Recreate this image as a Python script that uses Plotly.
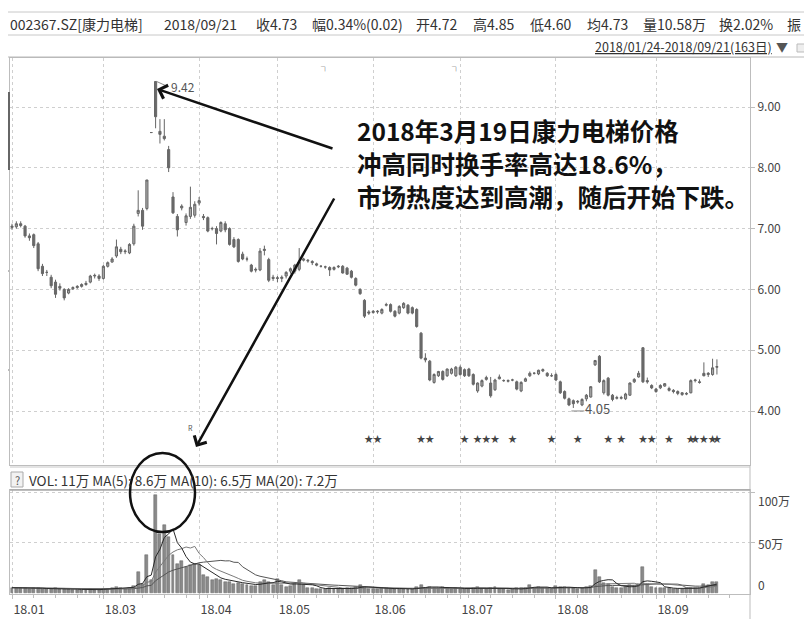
import plotly.graph_objects as go
import pandas as pd

# ---------------- data ----------------
opens = [7.02, 7.03, 7.08, 7.04, 6.88, 6.90, 6.75, 6.38, 6.28, 6.20, 6.12, 6.05, 6.00, 5.94, 6.01, 6.03, 6.05, 6.08, 6.12, 6.22,
         6.22, 6.18, 6.38, 6.45, 6.55, 6.66, 6.62, 6.60, 6.75, 7.25, 7.30, 7.33, 8.58, 9.42, 8.60, 8.52, 8.30, 7.52, 7.20, 7.34,
         7.10, 7.20, 7.22, 7.42, 7.20, 7.18, 7.00, 7.00, 6.96, 7.08, 7.00, 6.82, 6.82, 6.58, 6.50, 6.40, 6.33, 6.32, 6.64, 6.49,
         6.20, 6.18, 6.18, 6.22, 6.30, 6.30, 6.33, 6.48, 6.48, 6.46, 6.42, 6.38, 6.37, 6.36, 6.33, 6.37, 6.38, 6.35, 6.30, 6.18,
         6.00, 5.82, 5.63, 5.62, 5.63, 5.61, 5.74, 5.75, 5.64, 5.61, 5.70, 5.74, 5.70, 5.67, 5.28, 4.87, 4.82, 4.47, 4.58, 4.65,
         4.58, 4.62, 4.58, 4.72, 4.68, 4.69, 4.60, 4.33, 4.41, 4.52, 4.46, 4.35, 4.53, 4.50, 4.49, 4.51, 4.48, 4.33, 4.49, 4.58,
         4.62, 4.61, 4.66, 4.62, 4.58, 4.60, 4.48, 4.32, 4.20, 4.17, 4.16, 4.10, 4.20, 4.23, 4.76, 4.90, 4.30, 4.54, 4.26, 4.21,
         4.21, 4.20, 4.26, 4.48, 4.56, 5.04, 4.50, 4.42, 4.36, 4.38, 4.41, 4.37, 4.34, 4.32, 4.27, 4.29, 4.30, 4.50, 4.48, 4.62,
         4.60, 4.60, 4.72]
highs = [7.08, 7.12, 7.12, 7.06, 6.92, 6.92, 6.78, 6.42, 6.32, 6.24, 6.16, 6.10, 6.02, 6.02, 6.05, 6.07, 6.10, 6.14, 6.24, 6.26,
         6.25, 6.40, 6.46, 6.53, 6.82, 6.70, 6.66, 6.76, 7.08, 7.63, 7.34, 7.80, 8.58, 9.42, 8.80, 8.80, 8.36, 7.60, 7.24, 7.40,
         7.25, 7.69, 7.45, 7.52, 7.24, 7.20, 7.03, 7.04, 7.12, 7.12, 7.02, 6.86, 6.84, 6.62, 6.54, 6.42, 6.36, 6.68, 6.72, 6.52,
         6.24, 6.22, 6.23, 6.30, 6.36, 6.42, 6.68, 6.52, 6.50, 6.48, 6.44, 6.40, 6.39, 6.38, 6.38, 6.40, 6.40, 6.37, 6.32, 6.20,
         6.02, 5.84, 5.66, 5.66, 5.66, 5.69, 5.78, 5.77, 5.66, 5.74, 5.79, 5.76, 5.72, 5.69, 5.30, 4.95, 4.84, 4.62, 4.66, 4.67,
         4.70, 4.71, 4.74, 4.75, 4.70, 4.71, 4.62, 4.47, 4.52, 4.58, 4.56, 4.53, 4.60, 4.52, 4.52, 4.53, 4.50, 4.49, 4.55, 4.65,
         4.64, 4.68, 4.70, 4.64, 4.62, 4.63, 4.50, 4.34, 4.22, 4.19, 4.18, 4.21, 4.28, 4.41, 4.84, 4.92, 4.52, 4.56, 4.28, 4.25,
         4.25, 4.30, 4.47, 4.54, 4.66, 5.05, 4.55, 4.44, 4.38, 4.44, 4.46, 4.40, 4.36, 4.34, 4.31, 4.31, 4.52, 4.53, 4.52, 4.80,
         4.64, 4.86, 4.85]
lows = [6.98, 7.00, 7.02, 6.85, 6.80, 6.68, 6.30, 6.22, 6.22, 6.02, 5.86, 5.98, 5.82, 5.92, 5.99, 6.01, 6.03, 6.06, 6.10, 6.18,
        6.14, 6.16, 6.36, 6.44, 6.52, 6.58, 6.58, 6.58, 6.72, 7.20, 6.98, 7.30, 8.58, 8.65, 8.40, 8.45, 7.93, 7.24, 6.87, 7.30,
        7.05, 7.16, 7.18, 7.38, 7.14, 6.94, 6.97, 6.74, 6.94, 6.94, 6.72, 6.68, 6.44, 6.48, 6.46, 6.28, 6.28, 6.30, 6.56, 6.12,
        6.14, 6.12, 6.12, 6.18, 6.26, 6.26, 6.30, 6.46, 6.44, 6.40, 6.38, 6.36, 6.34, 6.22, 6.31, 6.35, 6.26, 6.24, 6.18, 6.05,
        5.91, 5.53, 5.58, 5.60, 5.60, 5.59, 5.72, 5.62, 5.54, 5.59, 5.68, 5.59, 5.59, 5.37, 4.85, 4.80, 4.49, 4.45, 4.56, 4.50,
        4.56, 4.60, 4.56, 4.58, 4.56, 4.56, 4.42, 4.30, 4.39, 4.50, 4.22, 4.33, 4.52, 4.48, 4.47, 4.49, 4.34, 4.31, 4.48, 4.56,
        4.60, 4.59, 4.64, 4.56, 4.56, 4.49, 4.28, 4.19, 4.08, 4.05, 4.12, 4.08, 4.16, 4.22, 4.74, 4.46, 4.27, 4.24, 4.16, 4.19,
        4.19, 4.18, 4.25, 4.46, 4.55, 4.46, 4.45, 4.36, 4.30, 4.36, 4.40, 4.32, 4.29, 4.26, 4.25, 4.26, 4.29, 4.47, 4.45, 4.57,
        4.56, 4.58, 4.60]
closes = [7.04, 7.08, 7.05, 6.88, 6.85, 6.72, 6.34, 6.26, 6.28, 6.06, 5.92, 6.02, 5.86, 6.00, 6.03, 6.05, 6.08, 6.10, 6.22, 6.23,
          6.18, 6.38, 6.44, 6.50, 6.70, 6.62, 6.63, 6.74, 7.04, 7.30, 7.04, 7.80, 8.58, 8.84, 8.55, 8.48, 8.00, 7.26, 6.98, 7.37,
          7.21, 7.35, 7.40, 7.46, 7.18, 6.96, 7.00, 6.92, 7.10, 6.98, 6.74, 6.70, 6.46, 6.50, 6.50, 6.30, 6.32, 6.63, 6.66, 6.15,
          6.18, 6.19, 6.20, 6.28, 6.34, 6.40, 6.45, 6.50, 6.47, 6.44, 6.40, 6.38, 6.37, 6.32, 6.36, 6.38, 6.27, 6.25, 6.20, 6.07,
          5.93, 5.56, 5.61, 5.64, 5.64, 5.67, 5.75, 5.64, 5.56, 5.72, 5.77, 5.61, 5.61, 5.39, 4.87, 4.84, 4.51, 4.60, 4.65, 4.52,
          4.69, 4.69, 4.72, 4.60, 4.58, 4.58, 4.44, 4.46, 4.50, 4.55, 4.25, 4.51, 4.56, 4.50, 4.50, 4.51, 4.36, 4.47, 4.53, 4.62,
          4.62, 4.67, 4.68, 4.58, 4.58, 4.51, 4.30, 4.21, 4.10, 4.12, 4.15, 4.19, 4.26, 4.40, 4.83, 4.48, 4.50, 4.26, 4.19, 4.22,
          4.22, 4.28, 4.46, 4.52, 4.62, 4.48, 4.48, 4.38, 4.32, 4.42, 4.45, 4.34, 4.32, 4.29, 4.30, 4.28, 4.50, 4.51, 4.47, 4.58,
          4.62, 4.71, 4.73]
volumes = [5, 5, 4.5, 5, 4, 4.5, 5, 4, 3.5, 4, 4.5, 4, 4, 3.5, 3, 3, 3, 3, 3.5, 3,
           3, 4, 4, 5, 6, 5, 4, 5, 7, 21, 9, 38, 13, 98, 59, 68, 56, 38, 29, 32,
           26, 28, 29, 28, 18, 16, 13, 14, 13, 11, 11, 9, 10, 9, 8, 7, 7, 11, 13, 11,
           8, 14, 8, 6, 7, 9, 13, 8, 5, 4.5, 4, 4, 3.5, 4.5, 4, 3.5, 4, 4.5, 5, 5.5,
           8, 6, 4, 3.5, 3.5, 5, 4.5, 4, 3.5, 4, 4, 3.5, 4, 5.5, 8, 5, 6, 5, 4.5, 6,
           5, 4, 4.5, 4, 3.5, 4, 5, 5.5, 4, 3.5, 5, 6, 4, 3.5, 3, 3.5, 4.5, 4.5, 5, 8,
           5, 5.5, 5, 4.5, 4, 7, 6, 5.5, 5, 4.5, 4, 5, 5.5, 7, 23, 16, 10, 9, 6, 5,
           5, 5.5, 8, 7, 9, 26, 9, 6, 5, 4.5, 5, 4.5, 4, 3.5, 4, 4.5, 5, 5, 5, 9,
           7.5, 11, 10.58]
tick_idx = [0, 21, 43, 61, 83, 103, 125, 148]
tick_labels = ["18.01", "18.03", "18.04", "18.05", "18.06", "18.07", "18.08", "18.09"]
price_ticks = [4, 5, 6, 7, 8, 9]
star_idx = [82, 84, 94, 96, 104, 107, 109, 111, 115, 124, 130, 137, 140, 145, 147, 151, 156, 157, 159, 161, 162]

idx = list(range(len(closes)))
vol = pd.Series(volumes)
ma5 = vol.rolling(5, min_periods=1).mean()
ma10 = vol.rolling(10, min_periods=1).mean()
ma20 = vol.rolling(20, min_periods=1).mean()

# ---------------- layout helpers ----------------
# the page body has an 8px margin, so the figure is drawn 8px right/down;
# all positions below are given in screenshot pixels and shifted back.
OFF = 8
W, H = 804, 611
L, T = 10 - OFF, 58 - OFF
R = W - (750 - OFF)
B = H - (594 - OFF)
PW, PH = W - L - R, H - T - B


def px(x):
    return (x - OFF - L) / PW


def py(y):
    return (H - B - (y - OFF)) / PH


FONT = "Noto Sans CJK SC, Microsoft YaHei, sans-serif"
GRID = "#cfcfcf"
AX = "#bdbdbd"

fig = go.Figure()
fig.add_trace(go.Candlestick(
    x=idx, open=opens, high=highs, low=lows, close=closes,
    increasing=dict(line=dict(color="#666", width=1), fillcolor="#a9a9a9"),
    decreasing=dict(line=dict(color="#666", width=1), fillcolor="#6a6a6a"),
    whiskerwidth=0, xaxis="x", yaxis="y", showlegend=False, hoverinfo="skip"))

fig.add_trace(go.Scatter(
    x=star_idx, y=[3.52] * len(star_idx), mode="text", text=["★"] * len(star_idx),
    textfont=dict(size=9, color="#444"), xaxis="x", yaxis="y", showlegend=False, hoverinfo="skip"))

fig.add_trace(go.Bar(
    x=idx, y=volumes, width=0.68, marker=dict(color="#8a8a8a", line=dict(color="#606060", width=0.5)),
    xaxis="x2", yaxis="y2", showlegend=False, hoverinfo="skip"))
for ma, col in ((ma20, "#555"), (ma10, "#7a7a7a"), (ma5, "#2a2a2a")):
    fig.add_trace(go.Scatter(x=idx, y=ma, mode="lines", line=dict(color=col, width=1),
                             xaxis="x2", yaxis="y2", showlegend=False, hoverinfo="skip"))

price_dom0 = py(465)
vol_dom1 = py(490)
xr = [-0.46, 169.6]
fig.update_layout(
    width=W, height=H, margin=dict(l=L, r=R, t=T, b=B),
    paper_bgcolor="white", plot_bgcolor="white",
    font=dict(family=FONT, color="#444"),
    bargap=0,
    xaxis=dict(domain=[0, 1], range=xr, anchor="y", tickvals=tick_idx, showticklabels=False,
               showgrid=True, gridcolor=GRID, griddash="dot", zeroline=False,
               showline=True, linecolor=AX, mirror=True, rangeslider=dict(visible=False), ticks=""),
    yaxis=dict(domain=[price_dom0, 1], range=[3.112, 9.806], side="right", tickvals=price_ticks,
               ticktext=["%.2f" % v for v in price_ticks], tickfont=dict(size=12, color="#444"),
               showgrid=True, gridcolor=GRID, griddash="dot", zeroline=False,
               ticks="outside", ticklen=4, tickcolor=AX, showline=True, linecolor=AX, mirror=True),
    xaxis2=dict(domain=[0, 1], range=xr, anchor="y2", matches="x", tickvals=tick_idx, ticktext=tick_labels,
                ticklabelshift=17, tickfont=dict(size=12.5, color="#444"),
                showgrid=True, gridcolor=GRID, griddash="dot", zeroline=False,
                ticks="outside", ticklen=4, tickcolor=AX,
                minor=dict(ticks="outside", ticklen=3, tickcolor=AX, tick0=0, dtick=5, showgrid=False),
                showline=True, linecolor=AX, mirror=True),
    yaxis2=dict(domain=[0, vol_dom1], range=[-1.3, 102.7], side="right", tickvals=[50, 100],
                showticklabels=False, showgrid=True, gridcolor=GRID, griddash="dot", zeroline=False,
                ticks="outside", ticklen=4, tickcolor=AX, showline=True, linecolor=AX, mirror=True),
)

ann = []
shapes = []


def text(x, y, s, size=13, color="#333", anchor="left", bold=False):
    ann.append(dict(x=px(x), y=py(y), xref="paper", yref="paper", text=("<b>%s</b>" % s if bold else s),
                    showarrow=False, xanchor=anchor, yanchor="middle",
                    font=dict(size=size, color=color, family=FONT)))


def hline(y, x0=0, x1=820, color="#c8c8c8", width=1):
    shapes.append(dict(type="line", xref="paper", yref="paper", x0=px(x0), x1=px(x1), y0=py(y), y1=py(y),
                       line=dict(color=color, width=width)))


def vline(x, y0, y1, color="#c8c8c8", width=1):
    shapes.append(dict(type="line", xref="paper", yref="paper", x0=px(x), x1=px(x), y0=py(y0), y1=py(y1),
                       line=dict(color=color, width=width)))


# header rows
hline(12)
hline(35)
hline(57, color="#b8b8b8")
header_items = [(8, "002367.SZ[康力电梯]"), (162, "2018/09/21"), (254, "收4.73"), (310, "幅0.34%(0.02)"),
                (414, "开4.72"), (471, "高4.85"), (528, "低4.60"), (585, "均4.73"), (641, "量10.58万"),
                (717, "换2.02%"), (785, "振 .")]
for hx, s in header_items:
    text(hx, 24, s, size=14)
text(774, 46, "<u>2018/01/24-2018/09/21(163日)</u>", size=12.5, anchor="right")
text(782, 46, "▼", size=12, color="#555", anchor="center")
shapes.append(dict(type="rect", xref="paper", yref="paper", x0=px(797), x1=px(805), y0=py(52), y1=py(44),
                   line=dict(color="#bbb", width=1), fillcolor="#eee"))

# right border line through info bar and below
vline(750, 465, 619, color=AX)

# info bar
hline(467, 10, 750, color="#c8c8c8")
hline(490, 10, 750, color="#a8a8a8", width=1.5)
shapes.append(dict(type="rect", xref="paper", yref="paper", x0=px(11), x1=px(23), y0=py(487), y1=py(472),
                   line=dict(color="#aaa", width=1), fillcolor="#f2f2f2"))
text(17, 480, "?", size=11, color="#555", anchor="center")
text(27, 480, "VOL: 11万 MA(5): 8.6万 MA(10): 6.5万 MA(20): 7.2万", size=13.5)

# volume axis labels
text(756, 500, "100万", size=12, color="#444")
text(756, 543, "50万", size=12, color="#444")
text(756, 584, "0", size=12, color="#444")

# left scroll handle / small marks
shapes.append(dict(type="rect", xref="paper", yref="paper", x0=px(7), x1=px(10), y0=py(170), y1=py(92),
                   line=dict(width=0), fillcolor="#666"))
for yy in (271, 370):
    hline(yy, 5, 9, color="#777")

# extreme labels with their small leader marks
imax = max(idx, key=lambda i: highs[i])
imin = min(idx, key=lambda i: lows[i])
ann.append(dict(x=imax, y=highs[imax], xref="x", yref="y", text="9.42", showarrow=False, xanchor="left",
                yanchor="middle", xshift=13, yshift=-5, font=dict(size=12, color="#555", family=FONT)))
shapes.append(dict(type="line", xref="x", yref="y", xsizemode="pixel", ysizemode="pixel",
                   xanchor=imax, yanchor=highs[imax], x0=1, x1=12, y0=0, y1=-5,
                   line=dict(color="#888", width=1)))
ann.append(dict(x=imin, y=lows[imin], xref="x", yref="y", text="4.05", showarrow=False, xanchor="left",
                yanchor="middle", xshift=10, yshift=-1, font=dict(size=13, color="#555", family=FONT)))
shapes.append(dict(type="line", xref="x", yref="y", xsizemode="pixel", ysizemode="pixel",
                   xanchor=imin, yanchor=lows[imin], x0=-2, x1=11, y0=-3, y1=-3,
                   line=dict(color="#888", width=1)))
for mi in (72, 102):
    ann.append(dict(x=mi, y=9.67, xref="x", yref="y", text="┐", showarrow=False,
                    font=dict(size=8, color="#333", family=FONT)))
ann.append(dict(x=41, y=3.72, xref="x", yref="y", text="R", showarrow=False,
                font=dict(size=7, color="#555", family=FONT)))

# commentary
text(355, 130, "2018年3月19日康力电梯价格", size=24.5, color="#111", bold=True)
text(355, 163, "冲高同时换手率高达18.6%，", size=24.5, color="#111", bold=True)
text(355, 196, "市场热度达到高潮，随后开始下跌。", size=24.5, color="#111", bold=True)

ann.append(dict(x=px(157), y=py(89), xref="paper", yref="paper", ax=334 - 157, ay=149 - 89, text="",
                showarrow=True, arrowhead=4, arrowsize=1.1, arrowwidth=2.5, arrowcolor="#111"))
ann.append(dict(x=px(196), y=py(447), xref="paper", yref="paper", ax=335 - 196, ay=197 - 447, text="",
                showarrow=True, arrowhead=4, arrowsize=1.1, arrowwidth=2.5, arrowcolor="#111"))
shapes.append(dict(type="circle", xref="paper", yref="paper", x0=px(130), x1=px(195), y0=py(532), y1=py(453),
                   line=dict(color="#111", width=2.5)))

fig.update_layout(annotations=ann, shapes=shapes)
fig.write_html("out.html")
